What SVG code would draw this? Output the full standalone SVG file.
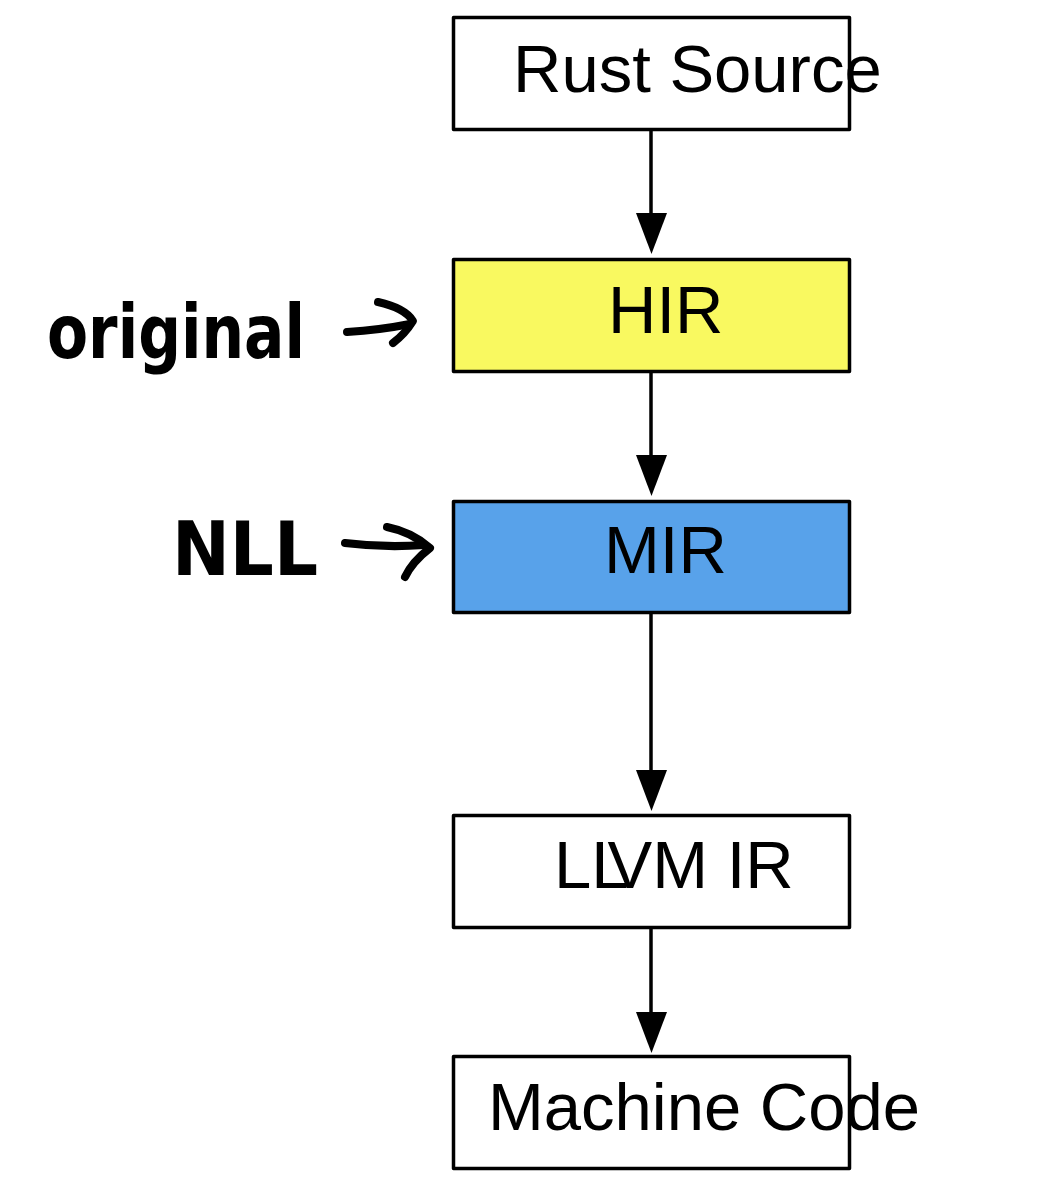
<svg xmlns="http://www.w3.org/2000/svg" width="1044" height="1200" viewBox="0 0 1044 1200">
<style>
.box{stroke:#000;stroke-width:3.5;stroke-linejoin:round}
.lbl{font-family:"Liberation Sans",Arial,sans-serif;font-size:67px;fill:#000}
.edge{stroke:#000;stroke-width:3.5;fill:none}
.hand{font-family:"DejaVu Sans",sans-serif;font-weight:bold;fill:#000}
.ink{stroke:#000;stroke-width:8;fill:none;stroke-linecap:round;stroke-linejoin:round}
</style>
<rect width="1044" height="1200" fill="#fff"/>
<g id="connectors">
<line class="edge" x1="651" y1="130" x2="651" y2="213"/><path d="M636,213 L667,213 L651.5,254 Z"/>
<line class="edge" x1="651" y1="372" x2="651" y2="455"/><path d="M636,455 L667,455 L651.5,496 Z"/>
<line class="edge" x1="651" y1="613" x2="651" y2="770"/><path d="M636,770 L667,770 L651.5,811 Z"/>
<line class="edge" x1="651" y1="928" x2="651" y2="1012"/><path d="M636,1012 L667,1012 L651.5,1053 Z"/>
</g>
<g id="rust-source"><rect class="box" x="453.5" y="17.5" width="396" height="112" fill="#fff"/><text class="lbl" x="513" y="92">Rust Source</text></g>
<g id="hir"><rect class="box" x="453.5" y="259.5" width="396" height="112" fill="#F9F960"/><text class="lbl" x="608" y="333">HIR</text></g>
<g id="mir"><rect class="box" x="453.5" y="501.5" width="396" height="111" fill="#58A2EA"/><text class="lbl" x="604" y="573">MIR</text></g>
<g id="llvm-ir"><rect class="box" x="453.5" y="815.5" width="396" height="112" fill="#fff"/><text class="lbl" x="554" y="888" dx="0 0 -16">LLVM IR</text></g>
<g id="machine-code"><rect class="box" x="453.5" y="1056.5" width="396" height="112" fill="#fff"/><text class="lbl" x="488" y="1130">Machine Code</text></g>
<g id="annotation-original">
<text class="hand" x="47" y="358" font-size="74" textLength="258" lengthAdjust="spacingAndGlyphs">original</text>
<path class="ink" d="M347,332 Q380,330 410,324"/>
<path class="ink" d="M378,302 Q405,308 413,321 Q405,334 393,343"/>
</g>
<g id="annotation-nll">
<text class="hand" x="172" y="575" font-size="74" textLength="146" lengthAdjust="spacingAndGlyphs">NLL</text>
<path class="ink" d="M345,543 Q385,548 424,545"/>
<path class="ink" d="M387,527 Q412,532 430,548 Q412,562 405,577"/>
</g>
</svg>
